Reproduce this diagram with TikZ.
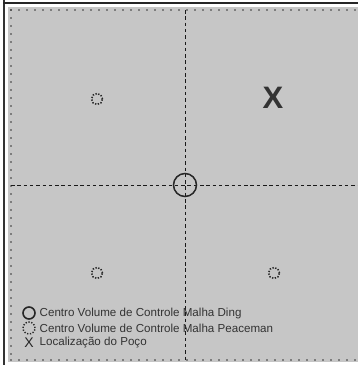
\documentclass[tikz,border=0pt]{standalone}
\usepackage{fontspec}
\setmainfont{Liberation Sans}
\begin{document}
\begin{tikzpicture}[x=1bp,y=-1bp,
  dotline/.style={line width=1.8bp, dash pattern=on 0pt off 8bp, line cap=round, draw=black!80},
  axisline/.style={line width=1bp, dash pattern=on 3.5bp off 2.8bp, draw=black!90},
  peace/.style={circle, minimum size=11bp, inner sep=0pt, draw=black!85, line width=1.6bp, dash pattern=on 1.3bp off 1.6bp},
  ding/.style={circle, minimum size=23bp, inner sep=0pt, draw=black!85, line width=1.5bp},
  legtext/.style={anchor=west, inner sep=0pt, font=\fontsize{11.6bp}{13bp}\selectfont, text=black!80}]
\useasboundingbox (0,0) rectangle (358,365);
\fill[white] (0,0) rectangle (358,365);
\fill[black!80] (3,0) rectangle (5.5,365);
\fill[black!85] (3,1.5) rectangle (358,3.5);
\fill[gray!45] (8,7) rectangle (358,362);
\draw[dotline] (11,10) -- (358,10);
\draw[dotline] (11,10) -- (11,360);
\draw[dotline] (11,360) -- (358,360);
\coordinate (c) at (185,185);
\coordinate (vt) at (185,10);
\coordinate (vb) at (185,360);
\coordinate (hl) at (11,185);
\coordinate (hr) at (358,185);
\draw[axisline] (vt) -- (vb);
\draw[axisline] (hl) -- (hr);
\node[ding] (d) at (c) {};
\node[peace] (p1) at (97,99) {};
\node[peace] (p2) at (97,273) {};
\node[peace] (p3) at (274,273) {};
\node (x) at (273,98) {\fontsize{31bp}{31bp}\selectfont\bfseries\textcolor{black!80}{X}};
\node[ding, minimum size=12bp, line width=1.6bp] (l1) at (29,313) {};
\node[peace, minimum size=12bp, line width=1.4bp] (l2) at (29,328) {};
\node (l3) at (29,342.5) {\fontsize{14bp}{14bp}\selectfont\textcolor{black!85}{X}};
\node[legtext] (t1) at (39.5,313) {Centro Volume de Controle Malha Ding};
\node[legtext] (t2) at (39.5,328) {Centro Volume de Controle Malha Peaceman};
\node[legtext] (t3) at (39.5,342.5) {Localização do Poço};
\end{tikzpicture}
\end{document}
